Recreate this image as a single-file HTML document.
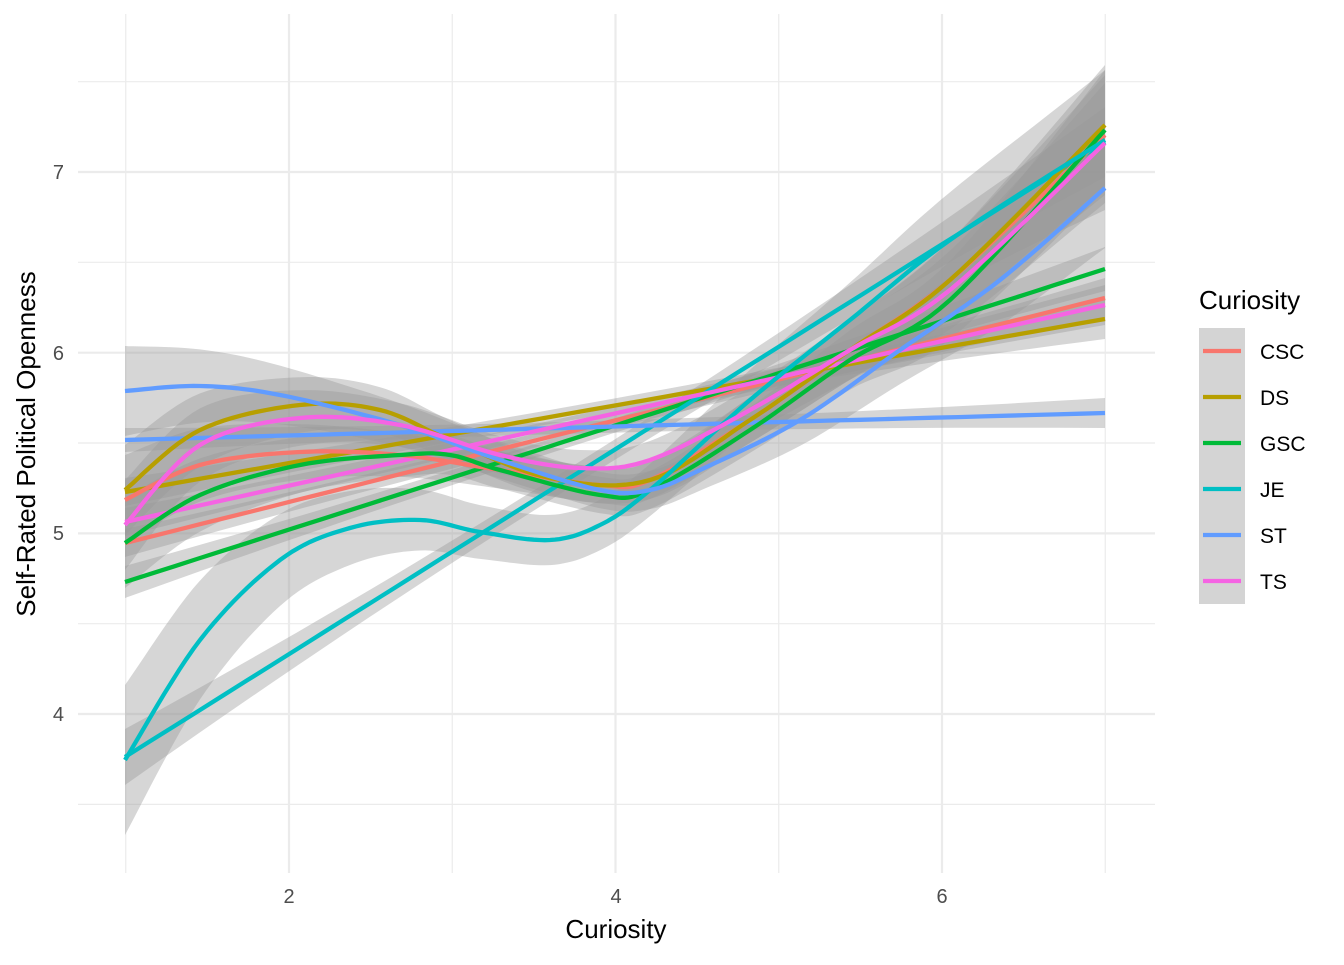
<!DOCTYPE html>
<html><head><meta charset="utf-8"><style>
body{margin:0;background:#fff;}
svg text{font-family:"Liberation Sans",sans-serif;}
</style></head><body>
<svg id="s" width="1344" height="960" xmlns="http://www.w3.org/2000/svg">
<rect width="1344" height="960" fill="#fff"/>
<g id="grid"></g>
<g id="rib"></g>
<g id="lines"></g>
<g font-size="20" fill="#4d4d4d">
<text x="289" y="903" text-anchor="middle">2</text>
<text x="616" y="903" text-anchor="middle">4</text>
<text x="942" y="903" text-anchor="middle">6</text>
<text x="64" y="179" text-anchor="end">7</text>
<text x="64" y="360" text-anchor="end">6</text>
<text x="64" y="540" text-anchor="end">5</text>
<text x="64" y="721" text-anchor="end">4</text>
</g>
<text x="616" y="938" text-anchor="middle" font-size="26" fill="#000">Curiosity</text>
<text transform="translate(35,444) rotate(-90)" text-anchor="middle" font-size="26" fill="#000">Self-Rated Political Openness</text>
<text x="1199" y="309" font-size="26" fill="#000">Curiosity</text>
<rect x="1199" y="328" width="46" height="276" fill="#d4d4d4"/>
<g id="leg"></g>
</svg>
<script>
const NS="http://www.w3.org/2000/svg";
function el(t,a,p){const e=document.createElementNS(NS,t);for(const k in a)e.setAttribute(k,a[k]);document.getElementById(p).appendChild(e);return e;}
const X=v=>125.75+(v-1)*163.25, Y=v=>172+(7-v)*180.67;
[1,3,5,7].forEach(v=>el('line',{x1:X(v),x2:X(v),y1:14,y2:873,stroke:'#ebebeb','stroke-width':1.2},'grid'));
[2,4,6].forEach(v=>el('line',{x1:X(v),x2:X(v),y1:14,y2:873,stroke:'#ebebeb','stroke-width':2.2},'grid'));
[3.5,4.5,5.5,6.5,7.5].forEach(v=>el('line',{x1:78,x2:1155,y1:Y(v),y2:Y(v),stroke:'#ebebeb','stroke-width':1.2},'grid'));
[4,5,6,7].forEach(v=>el('line',{x1:78,x2:1155,y1:Y(v),y2:Y(v),stroke:'#ebebeb','stroke-width':2.2},'grid'));
function cr(pts,n){const out=[];for(let i=0;i<pts.length-1;i++){const p0=pts[Math.max(0,i-1)],p1=pts[i],p2=pts[i+1],p3=pts[Math.min(pts.length-1,i+2)];for(let j=0;j<n;j++){const t=j/n,t2=t*t,t3=t2*t;const f=(a,b,c,d)=>0.5*((2*b)+(-a+c)*t+(2*a-5*b+4*c-d)*t2+(-a+3*b-3*c+d)*t3);out.push([f(p0[0],p1[0],p2[0],p3[0]),f(p0[1],p1[1],p2[1],p3[1])]);}}out.push(pts[pts.length-1]);return out;}
const C={CSC:'#F8766D',DS:'#B79F00',GSC:'#00BA38',JE:'#00BFC4',ST:'#619CFF',TS:'#F564E3'};
const series=[
['CSC',[[125,543],[1105,298]],[14,7,20]],
['DS',[[125,492],[1105,319]],[14,7,20]],
['GSC',[[125,582],[1105,269]],[16,7,22]],
['JE',[[125,757],[1105,142]],[28,10,35]],
['ST',[[125,440],[1105,413]],[12,6,15]],
['TS',[[125,522],[1105,305]],[14,7,20]],
['CSC',[[125,500],[200,465],[300,452],[400,455],[500,470],[600,485],[650,480],[750,420],[850,350],[950,280],[1105,135]],[45,18,60]],
['DS',[[125,490],[200,430],[300,405],[380,410],[450,440],[550,478],[650,480],[750,420],[850,350],[950,280],[1105,125]],[45,18,60]],
['GSC',[[125,543],[200,495],[300,465],[400,455],[450,455],[500,470],[600,495],[650,490],[750,430],[850,360],[950,300],[1105,130]],[45,18,60]],
['JE',[[125,760],[200,640],[280,560],[350,528],[420,520],[480,532],[550,540],[600,525],[650,490],[750,400],[850,320],[950,240],[1105,140]],[75,25,70]],
['ST',[[125,391],[200,386],[280,395],[400,425],[500,460],[600,490],[650,490],[700,470],[800,420],[900,350],[1000,280],[1105,188]],[45,18,60]],
['TS',[[125,525],[200,445],[300,418],[400,425],[500,455],[580,468],[650,460],[750,410],[850,350],[950,290],[1105,143]],[45,18,60]]];
series.forEach(([k,pts,w])=>{
 const p=pts.length>2?cr(pts,12):Array.from({length:41},(_,i)=>[pts[0][0]+(pts[1][0]-pts[0][0])*i/40,pts[0][1]+(pts[1][1]-pts[0][1])*i/40]);
 const hw=x=>{const t=(x-125)/980;const m=0.45;return t<m?w[1]+(w[0]-w[1])*Math.pow((m-t)/m,2):w[1]+(w[2]-w[1])*Math.pow((t-m)/(1-m),2);};
 const up=p.map(q=>q[0].toFixed(1)+','+(q[1]-hw(q[0])).toFixed(1));
 const dn=p.slice().reverse().map(q=>q[0].toFixed(1)+','+(q[1]+hw(q[0])).toFixed(1));
 el('polygon',{points:up.concat(dn).join(' '),fill:'#999',opacity:0.4},'rib');
 el('polyline',{points:p.map(q=>q[0].toFixed(1)+','+q[1].toFixed(1)).join(' '),fill:'none',stroke:C[k],'stroke-width':4.3},'lines');
});
Object.keys(C).forEach((k,i)=>{const y=351+i*46;
 el('line',{x1:1203,x2:1241,y1:y,y2:y,stroke:C[k],'stroke-width':4.3},'leg');
 const t=el('text',{x:1260,y:y+8,'font-size':21,fill:'#000'},'leg');t.textContent=k;});
</script>
</body></html>
